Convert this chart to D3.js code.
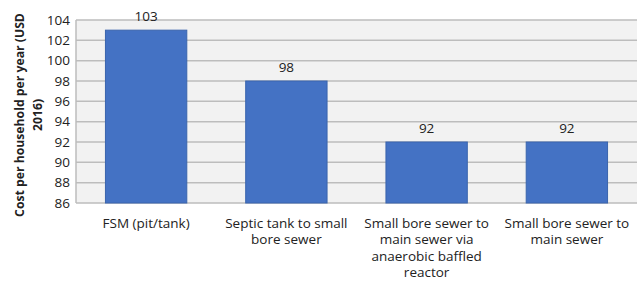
<!DOCTYPE html>
<html lang="en">
<head>
    <meta charset="UTF-8">
    <title>Cost per household</title>
    <script src="https://d3js.org/d3.v7.min.js"></script>
    <style>
        body {
            margin: 0;
            background: #fff;
            font-family: "Open Sans", Arial, sans-serif;
        }
        .grid line {
            stroke: #bdbdbd;
            stroke-width: 1.5px;
        }
        .tick text {
            font-size: 13.5px;
            fill: #222;
        }
    </style>
</head>
<body>
    <script>
        // Chart data
        const categories = [
            ["FSM (pit/tank)"],
            ["Septic tank to small", "bore sewer"],
            ["Small bore sewer to", "main sewer via", "anaerobic baffled", "reactor"],
            ["Small bore sewer to", "main sewer"]
        ];
        const values = [103, 98, 92, 92];
        const yTicks = [86, 88, 90, 92, 94, 96, 98, 100, 102, 104];

        const width = 639, height = 283;
        const margin = {top: 20, right: 2, bottom: 80, left: 76};

        const svg = d3.select("body").append("svg")
            .attr("width", width)
            .attr("height", height);

        const x = d3.scaleBand()
            .domain(d3.range(values.length))
            .range([margin.left, width - margin.right])
            .paddingInner(0.42)
            .paddingOuter(0.21);

        const y = d3.scaleLinear()
            .domain([86, 104])
            .range([height - margin.bottom, margin.top]);

        // plot area background
        svg.append("rect")
            .attr("x", margin.left)
            .attr("y", margin.top)
            .attr("width", width - margin.right - margin.left)
            .attr("height", y(86) - margin.top)
            .attr("fill", "#f2f2f2");

        // gridlines
        svg.append("g")
            .attr("class", "grid")
            .selectAll("line")
            .data(yTicks)
            .join("line")
            .attr("x1", margin.left)
            .attr("x2", width - margin.right)
            .attr("y1", d => y(d))
            .attr("y2", d => y(d));

        // left edge
        svg.append("line")
            .attr("x1", margin.left).attr("x2", margin.left)
            .attr("y1", margin.top).attr("y2", y(86))
            .attr("stroke", "#bdbdbd").attr("stroke-width", 1.5);

        // y axis labels
        const yAxis = svg.append("g")
            .attr("transform", `translate(${margin.left},0)`)
            .call(d3.axisLeft(y).tickValues(yTicks).tickSize(0).tickPadding(6));
        yAxis.select(".domain").remove();
        yAxis.selectAll("text").attr("font-family", "'Open Sans', Arial, sans-serif");

        // bars
        svg.selectAll(".bar")
            .data(values)
            .join("rect")
            .attr("class", "bar")
            .attr("x", (d, i) => x(i))
            .attr("y", d => y(d))
            .attr("width", x.bandwidth())
            .attr("height", d => y(86) - y(d))
            .attr("fill", "#4472c4")
            .attr("stroke", "#3a64ad")
            .attr("stroke-width", 1);

        // value labels
        svg.selectAll(".val")
            .data(values)
            .join("text")
            .attr("class", "val")
            .attr("x", (d, i) => x(i) + x.bandwidth() / 2)
            .attr("y", d => y(d) - 9)
            .attr("text-anchor", "middle")
            .attr("font-size", 13.5)
            .attr("fill", "#222")
            .text(d => d);

        // category labels
        svg.selectAll(".cat")
            .data(categories)
            .join("text")
            .attr("class", "cat")
            .attr("x", (d, i) => x(i) + x.bandwidth() / 2)
            .attr("y", y(86) + 24.5)
            .attr("text-anchor", "middle")
            .attr("font-size", 13.5)
            .attr("fill", "#222")
            .selectAll("tspan")
            .data(d => d)
            .join("tspan")
            .attr("x", function() { return this.parentNode.getAttribute("x"); })
            .attr("dy", (d, i) => i === 0 ? 0 : 16.5)
            .text(d => d);

        // y axis title, shrunk to fit the plot height
        const midY = 115;
        const title = svg.append("text")
            .attr("transform", `translate(24,${midY}) rotate(-90)`)
            .attr("text-anchor", "middle")
            .attr("font-size", 13.5)
            .attr("font-weight", "bold")
            .attr("fill", "#222");
        title.selectAll("tspan")
            .data(["Cost per household per year (USD", "2016)"])
            .join("tspan")
            .attr("x", 0)
            .attr("dy", (d, i) => i === 0 ? 0 : 18)
            .text(d => d);
        const len = title.select("tspan").node().getComputedTextLength();
        title.attr("font-size", 13.5 * Math.min(1, 204 / len));
    </script>
</body>
</html>
